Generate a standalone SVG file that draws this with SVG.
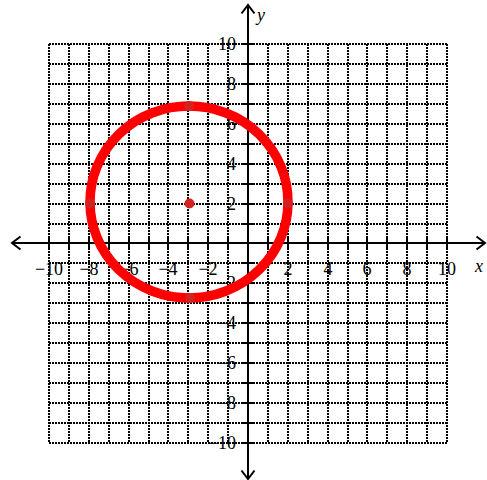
<svg xmlns="http://www.w3.org/2000/svg" width="487" height="480" viewBox="0 0 487 480">
<style>
.lbl{font-family:"Liberation Serif","Times New Roman",serif;font-size:18px;fill:#000}
.xl{text-anchor:middle}
.yl{text-anchor:end}
.it{font-style:italic}
.grid{fill:none;stroke:#000;stroke-width:2;stroke-dasharray:2 1}
.axis{fill:none;stroke:#000;stroke-width:2}
.tick{fill:none;stroke:#000;stroke-width:2}
.dot{fill:#d42222}
</style>
<rect width="487" height="480" fill="#fff"/>
<g id="labels">
<text class="lbl xl" x="49" y="275">−10</text>
<text class="lbl xl" x="89" y="275">−8</text>
<text class="lbl xl" x="129" y="275">−6</text>
<text class="lbl xl" x="168" y="275">−4</text>
<text class="lbl xl" x="208" y="275">−2</text>
<text class="lbl xl" x="288" y="275">2</text>
<text class="lbl xl" x="328" y="275">4</text>
<text class="lbl xl" x="367" y="275">6</text>
<text class="lbl xl" x="407" y="275">8</text>
<text class="lbl xl" x="447" y="275">10</text>
<text class="lbl yl" x="236" y="50">10</text>
<text class="lbl yl" x="236" y="90">8</text>
<text class="lbl yl" x="236" y="130">6</text>
<text class="lbl yl" x="236" y="170">4</text>
<text class="lbl yl" x="236" y="210">2</text>
<text class="lbl yl" x="236" y="289">−2</text>
<text class="lbl yl" x="236" y="329">−4</text>
<text class="lbl yl" x="236" y="369">−6</text>
<text class="lbl yl" x="236" y="409">−8</text>
<text class="lbl yl" x="236" y="449">−10</text>
<text class="lbl it" x="475" y="272">x</text>
<text class="lbl it" x="257" y="21">y</text>
</g>
<g id="grid">
<path class="grid" d="M49 44V443M69 44V443M89 44V443M109 44V443M129 44V443M149 44V443M168 44V443M188 44V443M208 44V443M228 44V443M268 44V443M288 44V443M308 44V443M328 44V443M348 44V443M367 44V443M387 44V443M407 44V443M427 44V443M447 44V443"/>
<path class="grid" d="M49 44H447M49 64H447M49 84H447M49 104H447M49 124H447M49 144H447M49 164H447M49 184H447M49 204H447M49 224H447M49 263H447M49 283H447M49 303H447M49 323H447M49 343H447M49 363H447M49 383H447M49 403H447M49 423H447M49 443H447"/>
</g>
<g id="connectors">
<path class="axis" d="M12 243H485M20.5 236.5L12 243L20.5 249.5M476.5 236.5L485 243L476.5 249.5"/>
<path class="axis" d="M248 5V479M241.5 13.5L248 5L254.5 13.5M241.5 470.5L248 479L254.5 470.5"/>
<path class="tick" d="M49 237V249M69 237V249M89 237V249M109 237V249M129 237V249M149 237V249M168 237V249M188 237V249M208 237V249M228 237V249M268 237V249M288 237V249M308 237V249M328 237V249M348 237V249M367 237V249M387 237V249M407 237V249M427 237V249M447 237V249"/>
<path class="tick" d="M242 44H254M242 64H254M242 84H254M242 104H254M242 124H254M242 144H254M242 164H254M242 184H254M242 204H254M242 224H254M242 263H254M242 283H254M242 303H254M242 323H254M242 343H254M242 363H254M242 383H254M242 403H254M242 423H254M242 443H254"/>
</g>
<g id="circle">
<ellipse cx="189" cy="202" rx="99" ry="96" fill="none" stroke="#ff0000" stroke-width="9.5"/>
</g>
<g id="points">
<circle class="dot" cx="189.5" cy="203.5" r="5"/>
<circle class="dot" cx="189" cy="106" r="5"/>
<circle class="dot" cx="190" cy="298" r="5"/>
<circle class="dot" cx="90" cy="203.5" r="5"/>
<circle class="dot" cx="288" cy="203.5" r="5"/>
</g>
</svg>
